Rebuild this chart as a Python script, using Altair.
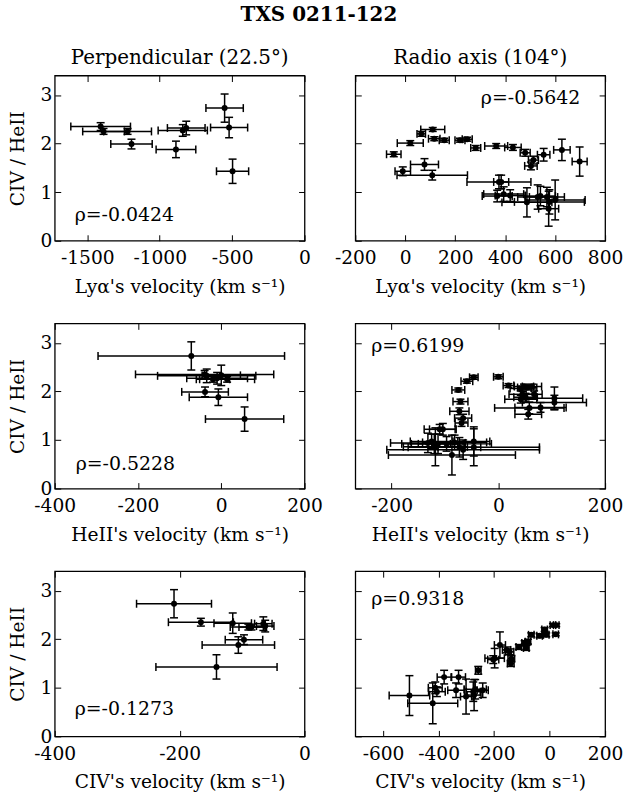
import altair as alt
import pandas as pd

FONT = "DejaVu Serif"
FS = 18.7      # tick labels and axis titles
TFS = 20       # titles

# ---------------- Perpendicular (22.5 deg) ----------------
perp_ratio = [2.73, 2.33, 1.43, 1.88, 2.32, 2.27, 2.35, 2.25, 2.25, 1.99]
perp_ratio_err = [0.29, 0.21, 0.25, 0.17, 0.14, 0.12, 0.08, 0.06, 0.06, 0.10]
perp_lya = [-552, -521, -497, -888, -817, -841, -1408, -1388, -1222, -1195]
perp_lya_err = [129, 128, 111, 137, 130, 170, 206, 144, 165, 143]
perp_heii = [-72, 0, 56, -7, -35, -10, -40, 14, -20, -39]
perp_heii_err = [224, 46, 94, 70, 118, 73, 166, 66, 40, 56]
perp_civ = [-209, -115, -141, -106, -66, -63, -166, -90, -85, -97]
perp_civ_err = [60, 30, 97, 58, 14, 14, 52, 29, 20, 30]

# ---------------- Radio axis (104 deg): Lya ----------------
rad_lya = [-46, 20, 64, 110, 116, 156, 219, 248, 282, 364, 431, 480, 513, 503, 554,
           627, 698, -10, 77, 108, 375, 384, 368, 394, 420, 487, 530, 541, 567, 574,
           600, 577]
rad_lya_err = [29, 52, 17, 48, 23, 20, 20, 20, 20, 46, 33, 20, 20, 25, 25,
               33, 30, 31, 56, 141, 128, 30, 60, 80, 60, 100, 80, 60, 70, 40,
               120, 140]
rad_lya_ratio = [1.78, 2.01, 2.20, 2.29, 2.10, 2.07, 2.07, 2.09, 1.91, 1.95, 1.92, 1.81, 1.66, 1.54, 1.77,
                 1.87, 1.63, 1.43, 1.57, 1.35, 1.21, 1.21, 0.92, 0.96, 0.93, 0.79, 0.90, 0.92, 0.90, 0.66,
                 0.84, 0.80]
rad_lya_ratio_err = [0.05, 0.05, 0.05, 0.04, 0.04, 0.04, 0.04, 0.04, 0.05, 0.05, 0.06, 0.07, 0.08, 0.08, 0.13,
                     0.22, 0.30, 0.09, 0.12, 0.10, 0.14, 0.14, 0.12, 0.15, 0.12, 0.30, 0.25, 0.20, 0.20, 0.36,
                     0.41, 0.25]

# ---------------- Radio axis: HeII ----------------
rad_heii = [-46, -59, 0, 19, -75, -71, -73, -66, -69, 42, 48, 54, 63, 45, 51, 67, 42, 79, 58, 56,
            105, 105, -110, -104, -125, -120, -118, -113, -132, -82, -87, -73, -46, -46, -66, -97]
rad_heii_err = [8, 11, 9, 10, 12, 14, 18, 16, 12, 20, 18, 18, 18, 25, 22, 15, 30, 48, 65, 25,
                53, 60, 29, 25, 40, 30, 60, 50, 70, 60, 119, 40, 30, 123, 143, 84]
rad_heii_ratio = [2.29, 2.21, 2.30, 2.12, 2.03, 1.79, 1.59, 1.45, 1.35, 2.06, 2.10, 2.08, 2.10, 1.94, 1.88, 1.94, 1.84, 1.67, 1.66, 1.53,
                  1.86, 1.77, 1.22, 1.22, 0.97, 0.92, 0.86, 0.92, 0.94, 0.95, 0.69, 0.85, 0.97, 0.85, 0.80, 0.92]
rad_heii_ratio_err = [0.04, 0.04, 0.04, 0.04, 0.04, 0.05, 0.07, 0.08, 0.07, 0.05, 0.05, 0.05, 0.05, 0.06, 0.08, 0.07, 0.08, 0.10, 0.12, 0.10,
                      0.23, 0.15, 0.10, 0.12, 0.15, 0.20, 0.39, 0.20, 0.20, 0.15, 0.41, 0.20, 0.30, 0.38, 0.20, 0.15]

# ---------------- Radio axis: CIV ----------------
rad_civ = [-505, -421, -412, -406, -380, -337, -328, -301, -275, -272, -268, -257, -241, -203, -198,
           -179, -155, -144, -138, -140, -111, -90, -84, -78, -66, -36, -18, -12, 12, 24, 22]
rad_civ_err = [73, 90, 25, 30, 25, 30, 25, 20, 25, 25, 40, 10, 20, 20, 35,
               20, 15, 15, 12, 12, 10, 10, 10, 10, 10, 10, 10, 10, 10, 10, 10]
rad_civ_ratio = [0.84, 0.68, 1.00, 0.92, 1.22, 0.95, 1.22, 0.82, 0.92, 0.85, 0.97, 1.36, 0.95, 1.58, 1.61,
                 1.88, 1.78, 1.74, 1.60, 1.50, 1.84, 1.92, 1.82, 1.95, 2.09, 2.07, 2.20, 2.09, 2.29, 2.29, 2.10]
rad_civ_ratio_err = [0.41, 0.42, 0.12, 0.10, 0.14, 0.15, 0.14, 0.36, 0.20, 0.32, 0.20, 0.08, 0.15, 0.08, 0.20,
                     0.27, 0.06, 0.06, 0.06, 0.06, 0.05, 0.05, 0.05, 0.05, 0.04, 0.04, 0.04, 0.04, 0.03, 0.03, 0.03]

W, H = 251, 166
YTICKS = [0, 1, 2, 3]


def inner(orient, vals):
    return alt.Axis(orient=orient, offset=-6, values=vals, labels=False, ticks=True,
                    tickSize=6, tickWidth=1, tickColor="black", domain=False,
                    grid=False, title=None)


def panel(x, xerr, y, yerr, xdom, xticks, xtitle, left, title, rho, rx, ry, ralign):
    df = pd.DataFrame({"x": x, "y": y, "xe": xerr, "ye": yerr})
    df["xlo"] = df["x"] - df["xe"]
    df["xhi"] = df["x"] + df["xe"]
    df["ylo"] = df["y"] - df["ye"]
    df["yhi"] = df["y"] + df["ye"]
    xs = alt.Scale(domain=xdom, nice=False, zero=False)
    ys = alt.Scale(domain=[0, 3.4], nice=False, zero=False)
    lab = dict(labelFont=FONT, labelFontSize=FS, labelColor="black", labelFlush=False,
               labelOverlap=False, labelExpr="datum.value + ''")
    x_main = alt.Axis(orient="bottom", values=xticks, ticks=False, domain=False, grid=False,
                      labelPadding=8, title=xtitle, titleFont=FONT, titleFontSize=FS,
                      titleFontWeight="normal", titleColor="black", titlePadding=10, **lab)
    if left:
        y_main = alt.Axis(orient="left", values=YTICKS, ticks=False, domain=False, grid=False,
                          labelPadding=3, title="CIV / HeII", titleFont=FONT, titleFontSize=FS,
                          titleFontWeight="normal", titleColor="black", titlePadding=12, **lab)
    else:
        y_main = alt.Axis(orient="left", values=YTICKS, ticks=False, labels=False, domain=False,
                          grid=False, title=None)
    base = alt.Chart(df)
    xbar = base.mark_rule(color="black", strokeWidth=1.5).encode(
        x=alt.X("xlo:Q", scale=xs, axis=x_main), x2="xhi:Q",
        y=alt.Y("y:Q", scale=ys, axis=y_main))
    capl = base.mark_tick(orient="vertical", size=8, thickness=1.5, color="black", opacity=1).encode(
        x=alt.X("xlo:Q", scale=xs, axis=inner("bottom", xticks)),
        y=alt.Y("y:Q", scale=ys, axis=inner("left", YTICKS)))
    capr = base.mark_tick(orient="vertical", size=8, thickness=1.5, color="black", opacity=1).encode(
        x=alt.X("xhi:Q", scale=xs, axis=inner("top", xticks)),
        y=alt.Y("y:Q", scale=ys, axis=inner("right", YTICKS)))
    ybar = base.mark_rule(color="black", strokeWidth=1.5).encode(
        x=alt.X("x:Q", scale=xs, axis=None),
        y=alt.Y("ylo:Q", scale=ys, axis=None), y2="yhi:Q")
    capb = base.mark_tick(orient="horizontal", size=8, thickness=1.5, color="black", opacity=1).encode(
        x=alt.X("x:Q", scale=xs, axis=None), y=alt.Y("ylo:Q", scale=ys, axis=None))
    capt = base.mark_tick(orient="horizontal", size=8, thickness=1.5, color="black", opacity=1).encode(
        x=alt.X("x:Q", scale=xs, axis=None), y=alt.Y("yhi:Q", scale=ys, axis=None))
    pts = base.mark_circle(size=36, color="black", opacity=1).encode(
        x=alt.X("x:Q", scale=xs, axis=None), y=alt.Y("y:Q", scale=ys, axis=None))
    txt = alt.Chart(pd.DataFrame({"t": [rho]})).mark_text(
        font=FONT, fontSize=19, align=ralign, baseline="middle", color="black").encode(
        x=alt.value(rx), y=alt.value(ry), text="t:N")
    ch = alt.layer(xbar, capl, capr, ybar, capb, capt, pts, txt).resolve_axis(
        x="independent", y="independent").properties(width=W, height=H)
    if title:
        ch = ch.properties(title=alt.TitleParams(text=title, font=FONT, fontSize=TFS,
                                                 fontWeight="normal", color="black", offset=7))
    return ch


LYA = "Ly\u03b1's velocity (km s\u207b\u00b9)"
HEII = "HeII's velocity (km s\u207b\u00b9)"
CIV = "CIV's velocity (km s\u207b\u00b9)"

p1 = panel(perp_lya, perp_lya_err, perp_ratio, perp_ratio_err, [-1725, 0], [-1500, -1000, -500, 0],
           LYA, True, "Perpendicular (22.5\u00b0)", "\u03c1=-0.0424", 20, 140, "left")
p2 = panel(rad_lya, rad_lya_err, rad_lya_ratio, rad_lya_ratio_err, [-200, 800], [-200, 0, 200, 400, 600, 800],
           LYA, False, "Radio axis (104\u00b0)", "\u03c1=-0.5642", 226, 23, "right")
p3 = panel(perp_heii, perp_heii_err, perp_ratio, perp_ratio_err, [-400, 200], [-400, -200, 0, 200],
           HEII, True, None, "\u03c1=-0.5228", 21, 141, "left")
p4 = panel(rad_heii, rad_heii_err, rad_heii_ratio, rad_heii_ratio_err, [-268, 200], [-200, 0, 200],
           HEII, False, None, "\u03c1=0.6199", 16, 23, "left")
p5 = panel(perp_civ, perp_civ_err, perp_ratio, perp_ratio_err, [-400, 0], [-400, -200, 0],
           CIV, True, None, "\u03c1=-0.1273", 20, 139, "left")
p6 = panel(rad_civ, rad_civ_err, rad_civ_ratio, rad_civ_ratio_err, [-700, 200], [-600, -400, -200, 0, 200],
           CIV, False, None, "\u03c1=0.9318", 16, 28, "left")

chart = alt.concat(
    p1, p2, p3, p4, p5, p6, columns=2, spacing={"row": 83, "column": 51}, bounds="flush",
    title=alt.TitleParams("TXS 0211-122", font=FONT, fontSize=TFS, fontWeight="bold",
                          color="black", anchor="middle", dx=3, offset=22.5),
).properties(
    padding={"left": 8, "top": 3, "right": 5, "bottom": 5}
).configure(background="white").configure_view(stroke="black", strokeWidth=1.3)

chart.save("out.html", embed_options={"renderer": "svg", "actions": False})
